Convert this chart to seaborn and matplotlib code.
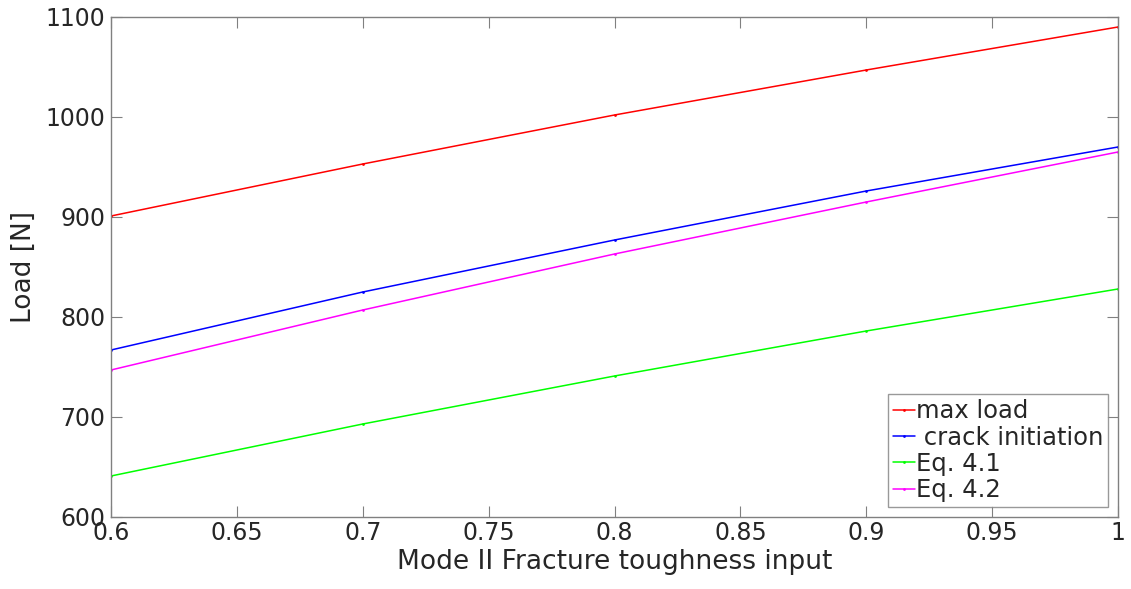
import numpy as np
import pandas as pd
import matplotlib
matplotlib.use("Agg")
import matplotlib.pyplot as plt
import seaborn as sns

# ── Data ──────────────────────────────────────────────────────────────────────
toughness = [0.6, 0.7, 0.8, 0.9, 1.0]
max_load = [901, 953, 1002, 1047, 1090]
crack_initiation = [767, 825, 877, 926, 970]
eq_41 = [641, 693, 741, 786, 828]
eq_42 = [747, 807, 863, 915, 965]

series_names = ["max load", " crack initiation", "Eq. 4.1", "Eq. 4.2"]
series_colors = ["#ff0000", "#0000ff", "#00ff00", "#ff00ff"]

df = pd.concat([
    pd.DataFrame({"x": toughness, "load": vals, "series": name})
    for name, vals in zip(series_names, [max_load, crack_initiation, eq_41, eq_42])
])

sns.set_style("white")
plt.rcParams["font.family"] = ["DejaVu Sans"]

fig = plt.figure(figsize=(11.31, 5.89), dpi=100)
ax = fig.add_axes([111 / 1131, 1 - 517 / 589, (1118 - 111) / 1131, 500 / 589])

sns.lineplot(
    data=df, x="x", y="load", hue="series",
    palette=dict(zip(series_names, series_colors)),
    hue_order=series_names,
    marker=".", markersize=4, markeredgewidth=0,
    linewidth=1.1, ax=ax, legend=True
)

ax.set_xlim(0.6, 1.0)
ax.set_ylim(600, 1100)
ax.set_xticks([0.6, 0.65, 0.7, 0.75, 0.8, 0.85, 0.9, 0.95, 1.0])
ax.set_xticklabels(["0.6", "0.65", "0.7", "0.75", "0.8", "0.85", "0.9", "0.95", "1"])
ax.set_yticks([600, 700, 800, 900, 1000, 1100])
ax.set_xlabel("Mode II Fracture toughness input", fontsize=19, color="#262626", labelpad=3)
ax.set_ylabel("Load [N]", fontsize=19, color="#262626", labelpad=6)

for side in ax.spines.values():
    side.set_visible(True)
    side.set_color("#808080")
    side.set_linewidth(1.0)

ax.tick_params(direction="in", length=8, width=0.8, color="#808080",
               labelsize=17, labelcolor="#262626", top=True, right=True,
               bottom=True, left=True, pad=4)
ax.tick_params(axis="x", pad=3)

leg = ax.legend(loc="lower right", fontsize=17.5, frameon=True, fancybox=False,
                handlelength=0.9, handletextpad=0.05, borderpad=0.2,
                labelspacing=0.1, borderaxespad=0.4)
leg.get_frame().set_edgecolor("#808080")
leg.get_frame().set_linewidth(1.0)

plt.savefig("out.png", dpi=100)
plt.close()
